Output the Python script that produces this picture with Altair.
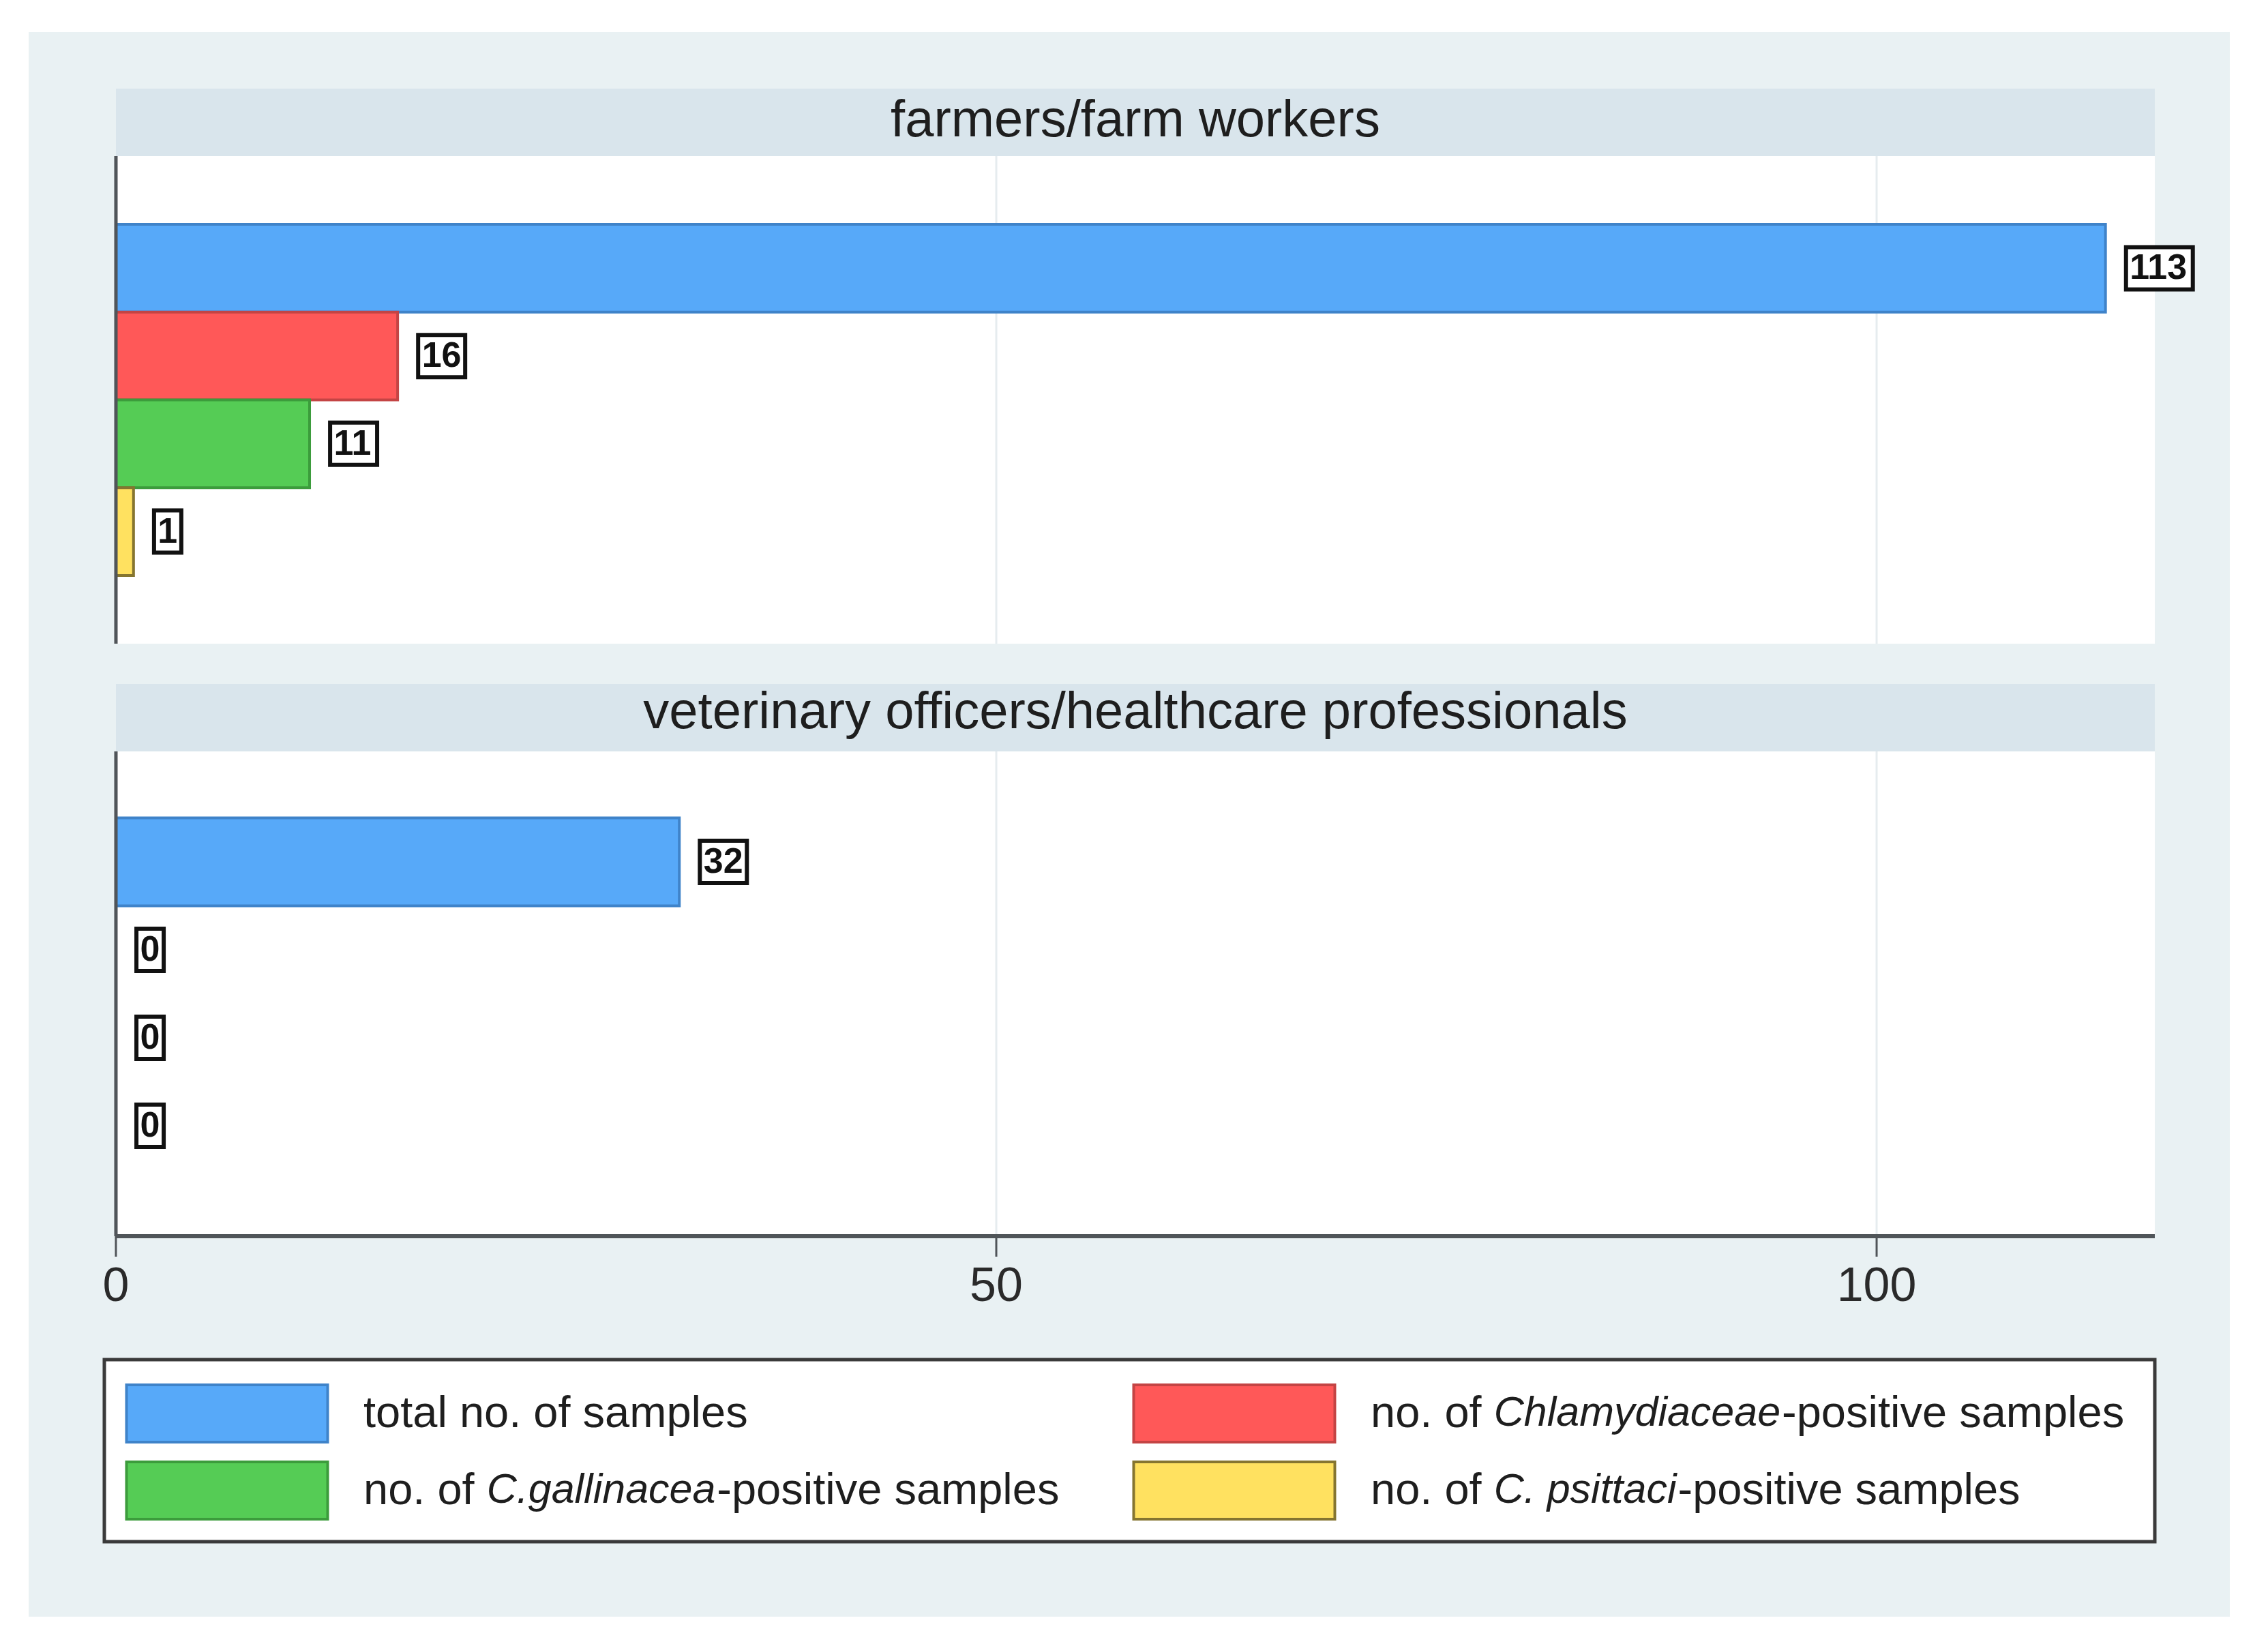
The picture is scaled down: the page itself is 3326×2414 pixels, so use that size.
import altair as alt
import pandas as pd

# ---------------- data ----------------
groups = ["farmers/farm workers", "veterinary officers/healthcare professionals"]
series = [
    "total no. of samples",
    "no. of Chlamydiaceae-positive samples",
    "no. of C.gallinacea-positive  samples",
    "no. of C. psittaci-positive  samples",
]
farmers_values = [113, 16, 11, 1]
vets_values = [32, 0, 0, 0]
tick_values = [0, 50, 100]
x_max = 115.8

legend_prefix = ["total no. of samples", "no. of ", "no. of ", "no. of "]
legend_italic = ["", "Chlamydiaceae", "C.gallinacea", "C. psittaci"]
legend_suffix = ["", "-positive samples", "-positive  samples", "-positive  samples"]

# ---------------- styles ----------------
FONT = "Liberation Sans, Arial, Helvetica, sans-serif"
OUTER = "#e9f1f3"
HEAD = "#d9e5ec"
GRID = "#e6ecef"
AXIS = "#505559"
TEXT = "#1e1e1e"
fill_colors = ["#57a9f9", "#ff5858", "#55cc55", "#ffe160"]
edge_colors = ["#3f83c9", "#c44444", "#3c9c3c", "#857530"]

W = 3228
X_RANGE = [128, 3118]
xs = alt.Scale(domain=[0, x_max], range=X_RANGE, nice=False, zero=False)
fill_scale = alt.Scale(domain=series, range=fill_colors)
edge_scale = alt.Scale(domain=series, range=edge_colors)

rows = []
for g, vals in zip(groups, [farmers_values, vets_values]):
    for s, v in zip(series, vals):
        rows.append({"group": g, "series": s, "value": v})
bars_df = pd.DataFrame(rows)
ticks_df = pd.DataFrame({"tick": tick_values})
groups_df = pd.DataFrame({"group": groups})
one = pd.DataFrame({"k": [0]})

# Arial / Liberation Sans advance widths (per 1000 em)
AW = {c: 556 for c in "abdeghnopqu0123456789"}
AW.update({"c": 500, "f": 278, "i": 222, "j": 222, "k": 500, "l": 222, "m": 833,
           "r": 333, "s": 500, "t": 278, "v": 500, "w": 722, "x": 500, "y": 500,
           "z": 500, "C": 722, ".": 278, " ": 278, "-": 333, "/": 278})


def text_w(s, size):
    return sum(AW.get(c, 556) for c in s) * size / 1000.0


def xd(v):
    return alt.XDatum(v, scale=xs, axis=None)


def header(gi, h, top, base_y):
    rect = alt.Chart(one).mark_rect(fill=HEAD).encode(
        x=xd(0), x2=alt.X2Datum(x_max),
        y=alt.value(top), y2=alt.value(h))
    txt = alt.Chart(groups_df).transform_filter(
        alt.datum.group == groups[gi]
    ).mark_text(fontSize=76, font=FONT, color=TEXT, align="center",
                baseline="alphabetic").encode(
        x=xd(x_max / 2), y=alt.value(base_y), text="group:N")
    return alt.layer(rect, txt).properties(width=W, height=h)


def panel(gi, h, pad_outer):
    base = alt.Chart(bars_df).transform_filter(alt.datum.group == groups[gi])
    y = alt.Y("series:N", sort=series, axis=None,
              scale=alt.Scale(paddingInner=0, paddingOuter=pad_outer))
    bg = alt.Chart(one).mark_rect(fill="white").encode(
        x=xd(0), x2=alt.X2Datum(x_max),
        y=alt.value(0), y2=alt.value(h))
    grid = alt.Chart(ticks_df).transform_filter(alt.datum.tick > 0).mark_rule(
        color=GRID, strokeWidth=3).encode(x=alt.X("tick:Q", scale=xs, axis=None))
    bars = base.mark_bar(strokeWidth=4).encode(
        x=alt.X("value:Q", scale=xs, axis=None), y=y,
        fill=alt.Fill("series:N", scale=fill_scale, legend=None),
        stroke=alt.Stroke("series:N", scale=edge_scale, legend=None))
    yaxis = alt.Chart(one).mark_rule(color=AXIS, strokeWidth=5).encode(x=xd(0))
    boxes = base.transform_calculate(
        box="'M0.97,-1H' + (1.325 + 0.935*length(toString(datum.value))) + 'V1H0.97Z'"
    ).mark_point(filled=True, fill="white", stroke="#111111", strokeWidth=6,
                 opacity=1, size=3844).encode(
        x=alt.X("value:Q", scale=xs, axis=None), y=y,
        shape=alt.Shape("box:N", scale=None))
    labels = base.mark_text(fontSize=52, font=FONT, color="#111111", align="left",
                            fontWeight="bold", baseline="middle", dx=35.5).encode(
        x=alt.X("value:Q", scale=xs, axis=None), y=y, text="value:Q")
    return alt.layer(bg, grid, bars, yaxis, boxes, labels).properties(width=W, height=h)


def axis_chart(h):
    line = alt.Chart(one).mark_rule(color=AXIS, strokeWidth=6).encode(
        x=xd(0), x2=alt.X2Datum(x_max), y=alt.value(0))
    ticks = alt.Chart(ticks_df).mark_rule(color=AXIS, strokeWidth=3).encode(
        x=alt.X("tick:Q", scale=xs, axis=None), y=alt.value(0), y2=alt.value(30))
    labs = alt.Chart(ticks_df).mark_text(fontSize=70, font=FONT, color="#2a2a2a",
                                         align="center", baseline="alphabetic").encode(
        x=alt.X("tick:Q", scale=xs, axis=None), y=alt.value(95), text="tick:N")
    return alt.layer(line, ticks, labs).properties(width=W, height=h)


def legend_chart(h):
    LFS = 65
    IFS = 61
    ldf = pd.DataFrame({
        "idx": list(range(len(series))),
        "series": series,
        "prefix": legend_prefix,
        "italic": legend_italic,
        "suffix": legend_suffix,
    })
    base = alt.Chart(ldf).transform_calculate(
        lcol="datum.idx % 2", lrow="floor(datum.idx / 2)")
    lx = alt.X("lcol:Q", scale=alt.Scale(domain=[0, 1], range=[291, 1768]), axis=None)
    ly = alt.Y("lrow:Q", scale=alt.Scale(domain=[0, 1], range=[79, 192]), axis=None)
    box = alt.Chart(one).mark_rect(fill="white", stroke="#3a3a3a", strokeWidth=5).encode(
        x=alt.value(111), x2=alt.value(3118), y=alt.value(0), y2=alt.value(267))
    sw = base.mark_point(shape="M-1,-0.285H1V0.285H-1Z", filled=True, opacity=1,
                         size=295 * 295, strokeWidth=4).encode(
        x=lx, y=ly,
        fill=alt.Fill("series:N", scale=fill_scale, legend=None),
        stroke=alt.Stroke("series:N", scale=edge_scale, legend=None))
    DX = 200
    txt_kw = dict(font=FONT, color=TEXT, align="left", baseline="middle")
    layers = [box, sw]
    layers.append(base.mark_text(dx=DX, fontSize=LFS, **txt_kw).encode(
        x=lx, y=ly, text="prefix:N"))
    for i in range(len(series)):
        if not legend_italic[i]:
            continue
        d1 = DX + text_w(legend_prefix[i], LFS)
        d2 = d1 + text_w(legend_italic[i], IFS) + 2
        sub = base.transform_filter(alt.datum.idx == i)
        layers.append(sub.mark_text(dx=d1, fontSize=IFS, fontStyle="italic",
                                    **txt_kw).encode(x=lx, y=ly, text="italic:N"))
        layers.append(sub.mark_text(dx=d2, fontSize=LFS, **txt_kw).encode(
            x=lx, y=ly, text="suffix:N"))
    return alt.layer(*layers).properties(width=W, height=h)


chart = alt.vconcat(
    header(0, 182, 83, 153),
    panel(0, 715, 0.777),
    header(1, 158, 59, 124),
    panel(1, 711, 0.756),
    axis_chart(181),
    legend_chart(377),
    spacing=0,
    bounds="flush",
).resolve_scale(x="independent", y="independent").properties(
    padding={"left": 34, "top": 39, "right": 20, "bottom": 20},
    background="white",
).configure_view(fill=OUTER, strokeWidth=0)

chart.save("out.html", embed_options={"renderer": "svg", "actions": False})
